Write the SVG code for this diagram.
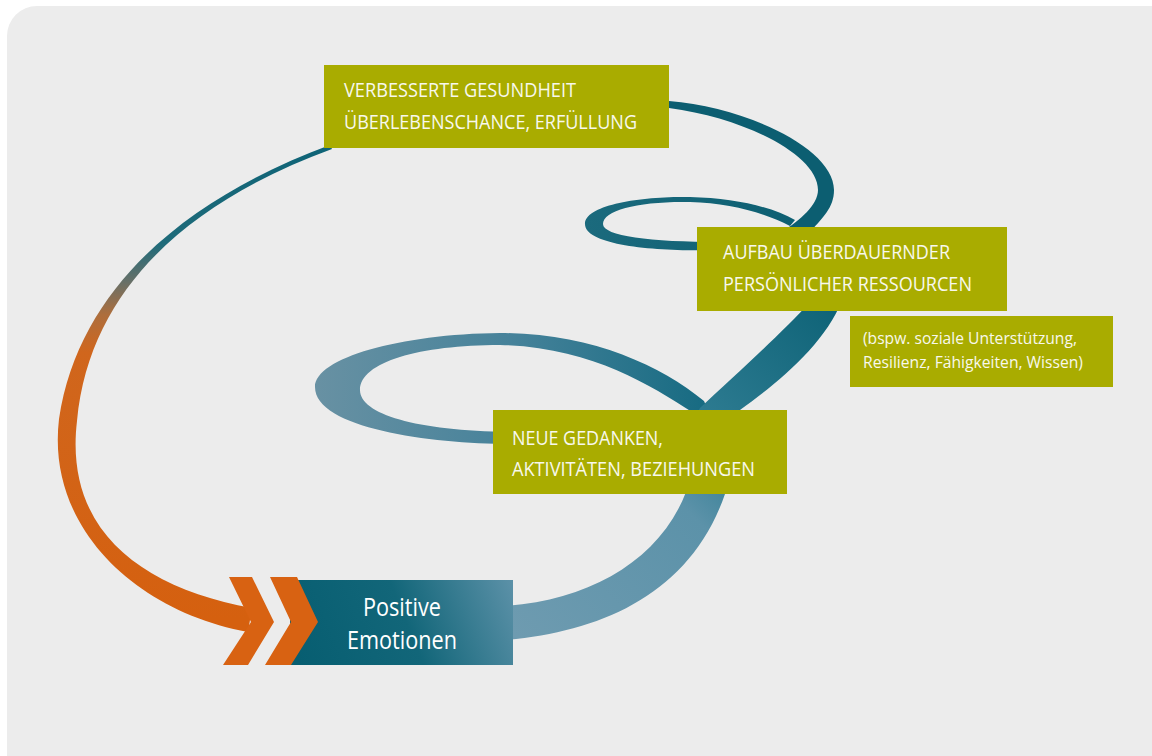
<svg xmlns="http://www.w3.org/2000/svg" width="1152" height="756" viewBox="0 0 1152 756">
<defs>
  <linearGradient id="gOrange" gradientUnits="userSpaceOnUse" x1="0" y1="150" x2="0" y2="620">
    <stop offset="0" stop-color="#0f6477"/>
    <stop offset="0.2" stop-color="#1f6b7a"/>
    <stop offset="0.28" stop-color="#677068"/>
    <stop offset="0.35" stop-color="#ad6e3d"/>
    <stop offset="0.43" stop-color="#d0661d"/>
    <stop offset="1" stop-color="#d5600f"/>
  </linearGradient>
  <linearGradient id="gBand" gradientUnits="userSpaceOnUse" x1="510" y1="630" x2="840" y2="300">
    <stop offset="0" stop-color="#6e9bb0"/>
    <stop offset="0.45" stop-color="#5c92a9"/>
    <stop offset="0.62" stop-color="#2d7b91"/>
    <stop offset="1" stop-color="#0d6276"/>
  </linearGradient>
  <linearGradient id="gLoop" gradientUnits="userSpaceOnUse" x1="315" y1="0" x2="705" y2="0">
    <stop offset="0" stop-color="#6891a3"/>
    <stop offset="0.5" stop-color="#46829a"/>
    <stop offset="1" stop-color="#176b82"/>
  </linearGradient>
  <linearGradient id="gSmall" gradientUnits="userSpaceOnUse" x1="585" y1="0" x2="795" y2="0">
    <stop offset="0" stop-color="#1b6a7d"/>
    <stop offset="1" stop-color="#0d5f72"/>
  </linearGradient>
  <linearGradient id="gPos" gradientUnits="userSpaceOnUse" x1="300" y1="665" x2="513" y2="580">
    <stop offset="0" stop-color="#075e71"/>
    <stop offset="0.5" stop-color="#126679"/>
    <stop offset="1" stop-color="#5c91a8"/>
  </linearGradient>
</defs>
<style>
  .box{fill:#a9ac00}
  .lbl{font-family:"Open Sans","Liberation Sans",sans-serif;fill:#f8f8ec;font-size:20px}
  .small{font-size:16.5px}
  .chev{fill:#d86212}
  .pos{font-family:"Open Sans","Liberation Sans",sans-serif;font-size:25px;fill:#ffffff;text-anchor:middle}
</style>
<path id="background" d="M7,36 A30,30 0 0 1 37,6 L1152,6 L1152,756 L7,756 Z" fill="#ececec"/>

<g id="connectors">
  <path id="return-arc" fill="url(#gOrange)" d="M330,145 C200,193 80,279 59,419 C46,529 138,612 248,632 L252,608 C142,588 64,531 77,421 C90,281 201,197 332,149 Z"/>
  <path id="lower-loop" fill="url(#gLoop)" d="M520,444 C440,445 315,430 315,387 C315,358 400,334 500,333 C590,333 660,365 704,401 L708,410 L692,412 C650,385 590,347 500,345 C420,345 360,362 360,390 C360,415 420,432 520,432 Z"/>
  <path id="main-band" fill="url(#gBand)" d="M505,640 C600,632 690,595 725,494 C732,470 736,440 740,410 C775,385 825,345 842,300 L812,300 C780,335 735,375 700,408 L688,430 L686,492 C660,560 590,600 505,606 Z"/>
  <path id="upper-loop" fill="url(#gSmall)" d="M720,250 C660,252 585,246 585,224 C585,205 640,196 690,197 C735,198 772,207 795,220 L790,226 C765,213 730,203 690,202 C640,201 603,210 603,224 C603,236 650,242 720,242 Z"/>
  <path id="upper-arc" fill="#0c5e71" d="M812,240 L812,230 C822,218 834,208 834,190 C834,148 745,107 669,101 L655,100 L655,109 L669,108 C745,118 818,155 818,190 C818,205 800,220 782,232 L782,240 Z"/>
</g>

<g id="node-health">
  <rect class="box" x="324" y="65" width="345" height="83"/>
  <text class="lbl" x="344" y="97" textLength="232" lengthAdjust="spacingAndGlyphs">VERBESSERTE GESUNDHEIT</text>
  <text class="lbl" x="344" y="129" textLength="293" lengthAdjust="spacingAndGlyphs">ÜBERLEBENSCHANCE, ERFÜLLUNG</text>
</g>

<g id="node-resources">
  <rect class="box" x="697" y="227" width="310" height="84"/>
  <text class="lbl" x="723" y="259" textLength="227" lengthAdjust="spacingAndGlyphs">AUFBAU ÜBERDAUERNDER</text>
  <text class="lbl" x="723" y="291" textLength="249" lengthAdjust="spacingAndGlyphs">PERSÖNLICHER RESSOURCEN</text>
</g>

<g id="node-examples">
  <rect class="box" x="850" y="316" width="263" height="71"/>
  <text class="lbl small" x="863" y="344" textLength="214" lengthAdjust="spacingAndGlyphs">(bspw. soziale Unterstützung,</text>
  <text class="lbl small" x="863" y="368" textLength="220" lengthAdjust="spacingAndGlyphs">Resilienz, Fähigkeiten, Wissen)</text>
</g>

<g id="node-thoughts">
  <rect class="box" x="493" y="410" width="294" height="84"/>
  <text class="lbl" x="512" y="445" textLength="151" lengthAdjust="spacingAndGlyphs">NEUE GEDANKEN,</text>
  <text class="lbl" x="512" y="476" textLength="243" lengthAdjust="spacingAndGlyphs">AKTIVITÄTEN, BEZIEHUNGEN</text>
</g>

<g id="node-emotions">
  <rect x="290" y="580" width="223" height="85" fill="url(#gPos)"/>
  <polygon class="chev" points="229,577 252,577 274,622 248,665 223,665 251,622"/>
  <polygon class="chev" points="270,577 297,577 318,622 291,665 265,665 291,622"/>
  <text class="pos" x="402" y="616" textLength="78" lengthAdjust="spacingAndGlyphs">Positive</text>
  <text class="pos" x="402" y="649" textLength="110" lengthAdjust="spacingAndGlyphs">Emotionen</text>
</g>
</svg>
